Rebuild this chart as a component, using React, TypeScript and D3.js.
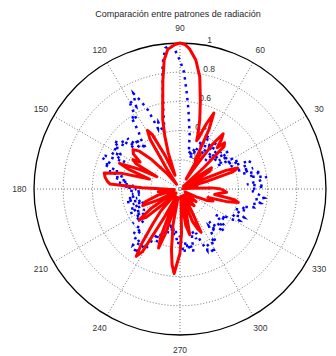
import React from "react";
import * as d3 from "d3";

const TITLE = "Comparación entre patrones de radiación";
const ANGLE_TICKS = [0, 30, 60, 90, 120, 150, 180, 210, 240, 270, 300, 330];
const RING_TICKS = [0.2, 0.4, 0.6, 0.8, 1];

// [angle in degrees, normalized magnitude]
const redPattern: [number, number][] = [
  [0, 0.28], [2, 0.22], [4, 0.08], [6, 0.02], [9, 0.08], [12, 0.12], [14, 0.06], [16, 0.2], [18, 0.38], [20, 0.42],
  [22, 0.34], [23, 0.15], [25, 0.03], [28, 0.12], [31, 0.24], [34, 0.26], [36, 0.12], [39, 0.03], [42, 0.22], [44, 0.42],
  [46, 0.44], [48, 0.38], [50, 0.44], [52, 0.48], [54, 0.38], [56, 0.15], [58, 0.08], [60, 0.28], [62, 0.22], [64, 0.45],
  [66, 0.57], [68, 0.48], [70, 0.37], [71, 0.35], [72, 0.4], [74, 0.49], [77, 0.62], [80, 0.78], [83, 0.89], [86, 0.96],
  [88, 0.99], [90, 1.0], [92, 0.99], [95, 0.96], [97, 0.89], [99, 0.75], [101, 0.62], [104, 0.49], [106, 0.38], [108, 0.26],
  [110, 0.1], [114, 0.25], [117, 0.42], [119, 0.46], [121, 0.4], [123, 0.18], [126, 0.04], [130, 0.14], [134, 0.28], [137, 0.38],
  [140, 0.42], [143, 0.4], [146, 0.33], [148, 0.38], [150, 0.35], [152, 0.18], [154, 0.3], [157, 0.45], [159, 0.38], [162, 0.22],
  [165, 0.42], [168, 0.53], [171, 0.52], [174, 0.5], [176, 0.48], [178, 0.26], [181, 0.08], [184, 0.04], [187, 0.15], [190, 0.08],
  [193, 0.04], [196, 0.16], [200, 0.25], [204, 0.28], [207, 0.16], [210, 0.05], [214, 0.24], [217, 0.35], [220, 0.3], [223, 0.12],
  [226, 0.04], [229, 0.2], [232, 0.3], [235, 0.46], [237, 0.55], [239, 0.5], [241, 0.22], [243, 0.06], [246, 0.14], [248, 0.35],
  [250, 0.43], [252, 0.32], [254, 0.1], [257, 0.06], [259, 0.25], [262, 0.42], [264, 0.52], [266, 0.58], [268, 0.5], [270, 0.44],
  [272, 0.3], [274, 0.1], [276, 0.05], [279, 0.25], [282, 0.32], [285, 0.16], [288, 0.05], [291, 0.24], [294, 0.3], [296, 0.33],
  [298, 0.16], [301, 0.05], [305, 0.12], [310, 0.15], [314, 0.05], [318, 0.1], [322, 0.14], [326, 0.06], [330, 0.04], [334, 0.12],
  [337, 0.2], [340, 0.24], [343, 0.2], [345, 0.34], [347, 0.41], [349, 0.38], [351, 0.24], [353, 0.26], [356, 0.32], [358, 0.3],
  [360, 0.28],
];

const bluePattern: [number, number][] = [
  [0, 0.5], [2, 0.58], [4, 0.46], [6, 0.55], [8, 0.6], [10, 0.48], [12, 0.57], [14, 0.44], [16, 0.52], [18, 0.4],
  [20, 0.5], [22, 0.52], [24, 0.38], [26, 0.45], [28, 0.36], [30, 0.42], [32, 0.3], [34, 0.4], [36, 0.33], [38, 0.42],
  [40, 0.3], [42, 0.38], [44, 0.28], [46, 0.36], [48, 0.26], [50, 0.34], [52, 0.4], [54, 0.3], [56, 0.38], [58, 0.28],
  [60, 0.35], [62, 0.42], [64, 0.32], [66, 0.36], [68, 0.26], [70, 0.3], [72, 0.22], [74, 0.28], [76, 0.25], [78, 0.3],
  [80, 0.38], [82, 0.45], [84, 0.55], [86, 0.66], [88, 0.8], [90, 0.88], [92, 0.95], [94, 0.99], [96, 0.97], [98, 0.86],
  [100, 0.68], [102, 0.55], [104, 0.45], [106, 0.4], [108, 0.48], [110, 0.44], [112, 0.58], [114, 0.66], [116, 0.73], [118, 0.64],
  [120, 0.7], [122, 0.56], [124, 0.6], [126, 0.48], [128, 0.44], [130, 0.36], [132, 0.46], [134, 0.4], [136, 0.5], [138, 0.42],
  [140, 0.52], [142, 0.48], [144, 0.56], [146, 0.5], [148, 0.54], [150, 0.46], [152, 0.53], [154, 0.42], [156, 0.56], [158, 0.58],
  [160, 0.5], [162, 0.55], [164, 0.44], [166, 0.5], [168, 0.4], [170, 0.46], [172, 0.36], [174, 0.42], [176, 0.32], [178, 0.38],
  [180, 0.3], [182, 0.34], [184, 0.26], [186, 0.33], [188, 0.28], [190, 0.36], [192, 0.3], [194, 0.38], [196, 0.28], [198, 0.34],
  [200, 0.26], [202, 0.36], [204, 0.3], [206, 0.38], [208, 0.32], [210, 0.28], [212, 0.36], [214, 0.3], [216, 0.4], [218, 0.34],
  [220, 0.3], [222, 0.38], [224, 0.44], [226, 0.38], [228, 0.46], [230, 0.5], [232, 0.44], [234, 0.54], [236, 0.5], [238, 0.44],
  [240, 0.48], [242, 0.38], [244, 0.34], [246, 0.4], [248, 0.3], [250, 0.36], [252, 0.28], [254, 0.32], [256, 0.24], [258, 0.3],
  [260, 0.26], [262, 0.32], [264, 0.28], [266, 0.34], [268, 0.38], [270, 0.32], [272, 0.4], [274, 0.44], [276, 0.36], [278, 0.42],
  [280, 0.38], [282, 0.44], [284, 0.34], [286, 0.3], [288, 0.36], [290, 0.32], [292, 0.4], [294, 0.46], [296, 0.42], [298, 0.5],
  [300, 0.46], [302, 0.4], [304, 0.44], [306, 0.36], [308, 0.32], [310, 0.38], [312, 0.3], [314, 0.36], [316, 0.42], [318, 0.34],
  [320, 0.4], [322, 0.36], [324, 0.3], [326, 0.38], [328, 0.34], [330, 0.42], [332, 0.46], [334, 0.4], [336, 0.48], [338, 0.44],
  [340, 0.4], [342, 0.48], [344, 0.44], [346, 0.52], [348, 0.5], [350, 0.56], [352, 0.52], [354, 0.58], [356, 0.54], [358, 0.5],
  [360, 0.5],
];

const W = 336;
const H = 356;
const CX = 180;
const CY = 189;
const R = 146;

export default function App() {
  const r = d3.scaleLinear().domain([0, 1]).range([0, R]);
  const toRad = (deg: number) => (deg * Math.PI) / 180;
  const line = d3
    .lineRadial<[number, number]>()
    .angle((d) => Math.PI / 2 - toRad(d[0]))
    .radius((d) => r(d[1]))
    .curve(d3.curveLinear);

  const font = "Liberation Sans, Arial, Helvetica, sans-serif";
  const c82 = Math.cos(toRad(82));
  const s82 = Math.sin(toRad(82));
  // the 0° label falls outside the visible canvas in the reference
  const visibleAngleLabels = ANGLE_TICKS.filter((a) => a !== 0);

  return (
    <svg
      width={W}
      height={H}
      style={{ position: "fixed", left: 0, top: 0, background: "#fff" }}
      fontFamily={font}
    >
      <rect x={0} y={0} width={W} height={H} fill="#fff" />
      <text x={178} y={17} fontSize={9} textAnchor="middle" fill="#262626">
        {TITLE}
      </text>
      <g transform={`translate(${CX},${CY})`}>
        {RING_TICKS.slice(0, -1).map((t) => (
          <circle
            key={t}
            r={r(t)}
            fill="none"
            stroke="#333"
            strokeWidth={0.7}
            strokeDasharray="1 2"
          />
        ))}
        {ANGLE_TICKS.slice(0, 6).map((a) => (
          <line
            key={a}
            x1={r(1) * Math.cos(toRad(a))}
            y1={-r(1) * Math.sin(toRad(a))}
            x2={-r(1) * Math.cos(toRad(a))}
            y2={r(1) * Math.sin(toRad(a))}
            stroke="#333"
            strokeWidth={0.7}
            strokeDasharray="1 2"
          />
        ))}
        <circle r={r(1)} fill="none" stroke="#000" strokeWidth={1.3} />
        {RING_TICKS.map((t) => (
          <text
            key={t}
            x={r(t) * c82 + 7}
            y={-r(t) * s82 - 1}
            fontSize={8.5}
            fill="#333"
          >
            {String(t)}
          </text>
        ))}
        {visibleAngleLabels.map((a) => (
          <text
            key={a}
            x={1.1 * r(1) * Math.cos(toRad(a))}
            y={-1.1 * r(1) * Math.sin(toRad(a))}
            fontSize={8.5}
            fill="#333"
            textAnchor="middle"
            dominantBaseline="central"
          >
            {String(a)}
          </text>
        ))}
        <path
          d={line(bluePattern) || ""}
          fill="none"
          stroke="#0000ff"
          strokeWidth={2.5}
          strokeDasharray="2.5 4.5"
        />
        <path
          d={line(redPattern) || ""}
          fill="none"
          stroke="#ff0000"
          strokeWidth={3}
          strokeLinejoin="round"
        />
      </g>
    </svg>
  );
}
